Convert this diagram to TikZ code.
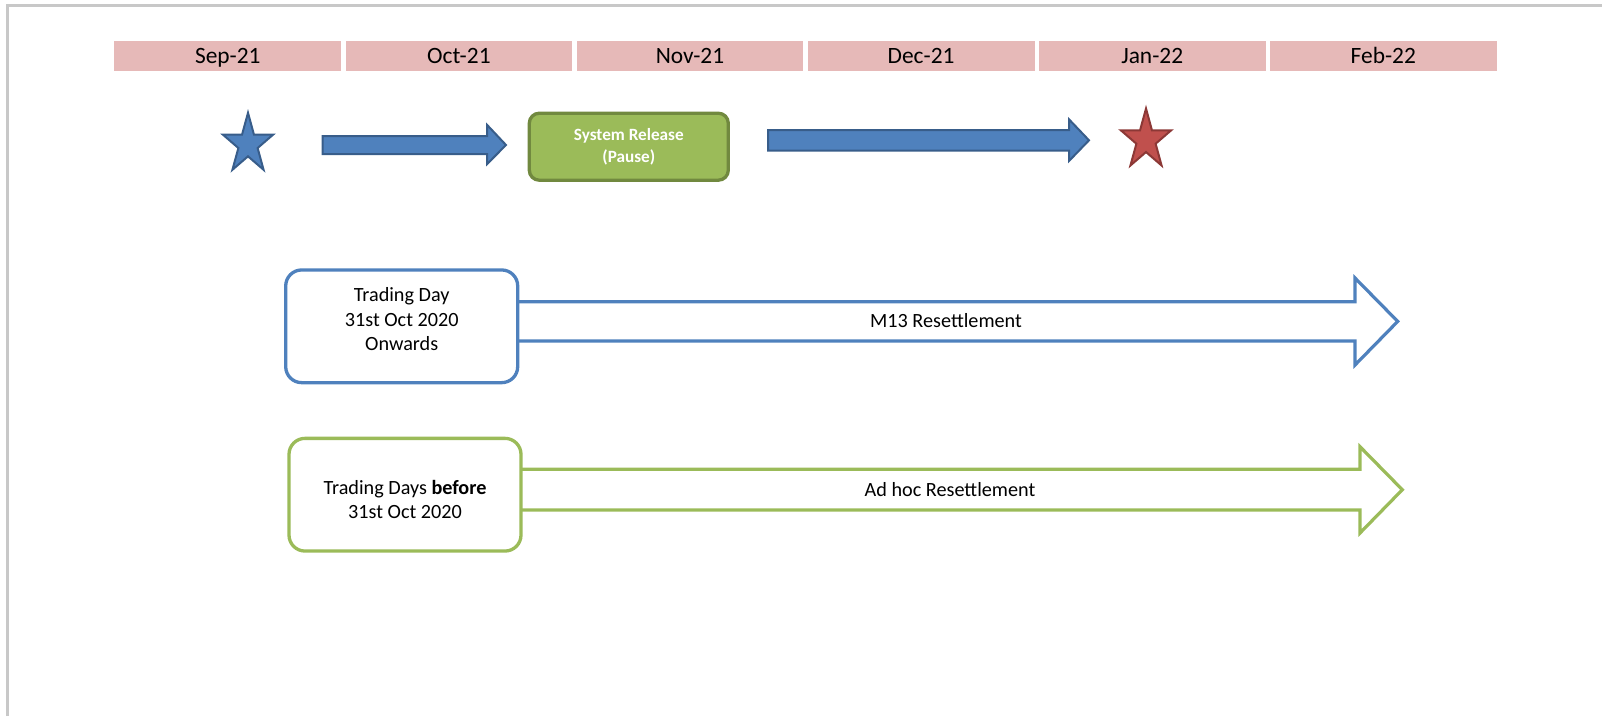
\documentclass[tikz,border=0pt]{standalone}
\usepackage{fontspec}
\setmainfont{Carlito}
\usetikzlibrary{positioning}
\definecolor{monthpink}{HTML}{E6B9B8}
\definecolor{accblue}{HTML}{4F81BD}
\definecolor{accbluedark}{HTML}{385D8A}
\definecolor{accred}{HTML}{C0504D}
\definecolor{accreddark}{HTML}{8C3836}
\definecolor{accgreen}{HTML}{9BBB59}
\definecolor{accgreendark}{HTML}{71893F}
\definecolor{framegrey}{HTML}{C8C8C8}
\tikzset{
  month/.style={fill=monthpink, minimum width=226.8pt, minimum height=30.6pt,
    inner sep=0pt, text depth=0pt, font=\fontsize{23.4}{28}\selectfont},
  blockarrow/.style={fill=accblue, draw=accbluedark, line width=2pt, line join=miter},
  starblue/.style={fill=accblue, draw=accbluedark, line width=2pt, line join=miter},
  starred/.style={fill=accred, draw=accreddark, line width=2pt, line join=miter},
  release/.style={fill=accgreen, draw=accgreendark, line width=3.3pt, rounded corners=10pt,
    minimum width=199pt, minimum height=67pt, inner sep=0pt, align=center,
    text=white, font=\fontsize{17.2}{21.6}\selectfont\bfseries},
  tradebox/.style={fill=white, line width=3.3pt, rounded corners=16pt,
    minimum width=232pt, minimum height=112.7pt, inner sep=0pt},
  boxtext/.style={align=center, inner sep=0pt, font=\fontsize{20.2}{24.5}\selectfont},
  outline/.style={line width=3.2pt, line join=miter}
}
\begin{document}
\begin{tikzpicture}[x=1pt,y=-1pt]
\useasboundingbox (0,0) rectangle (1602,716);
% page frame
\draw[framegrey, line width=3pt] (7,716) -- (7,5.5) -- (1602,5.5);

% months
\foreach \m [count=\i from 0] in {Sep-21,Oct-21,Nov-21,Dec-21,Jan-22,Feb-22}
  \node[month] (mon\i) at (227.8+231.1*\i,55.8) {\m};

% milestones
\coordinate (startstar) at (248,144.3);
\coordinate (endstar) at (1146,140);
\draw[starblue, shift={(startstar)}] (-90:26.5 and 31.5)
  \foreach \k [evaluate=\k as \f using {1-0.618*mod(\k,2)}] in {1,...,9} {
    -- ({-90+36*\k}:{26.5*\f} and {31.5*\f}) } -- cycle;
\draw[starred, shift={(endstar)}] (-90:26.5 and 31.5)
  \foreach \k [evaluate=\k as \f using {1-0.618*mod(\k,2)}] in {1,...,9} {
    -- ({-90+36*\k}:{26.5*\f} and {31.5*\f}) } -- cycle;

\draw[blockarrow] (322.6,136) -- (487.2,136) -- (487.2,125) -- (506,145)
  -- (487.2,164) -- (487.2,154) -- (322.6,154) -- cycle;
\node[release] (release) at (628.8,146.7) {System Release\\(Pause)};
\draw[blockarrow] (768,130) -- (1069,130) -- (1069,119.3) -- (1089,140.3)
  -- (1069,161) -- (1069,150.7) -- (768,150.7) -- cycle;

% resettlement runs
\coordinate (m13top) at (1355,301.7);
\coordinate (m13bot) at (1355,341);
\coordinate (m13tip) at (1397.7,321.4);
\coordinate (adhoctop) at (1360,469.3);
\coordinate (adhocbot) at (1360,510);
\coordinate (adhoctip) at (1402.3,489.7);

\draw[outline, accblue] (m13top -| 500,0) -- (m13top) -- (1355,278) -- (m13tip)
  -- (1355,365) -- (m13bot) -- (m13bot -| 500,0);
\draw[outline, accgreen] (adhoctop -| 500,0) -- (adhoctop) -- (1360,446.7) -- (adhoctip)
  -- (1360,533) -- (adhocbot) -- (adhocbot -| 500,0);

\node[tradebox, draw=accblue] (onward) at (401.7,326.3) {};
\node[boxtext] (onwardtxt) at (401.7,319.3) {Trading Day\\31st Oct 2020\\Onwards};
\node[tradebox, draw=accgreen] (before) at (405,494.7) {};
\node[boxtext] (beforetxt) at (405,499.7) {Trading Days \textbf{before}\\31st Oct 2020};

\node[font=\fontsize{20.2}{24}\selectfont] (m13lbl) at (946,321) {M13 Resettlement};
\node[font=\fontsize{20.2}{24}\selectfont] (adhoclbl) at (950,489.5) {Ad hoc Resettlement};
\end{tikzpicture}
\end{document}
